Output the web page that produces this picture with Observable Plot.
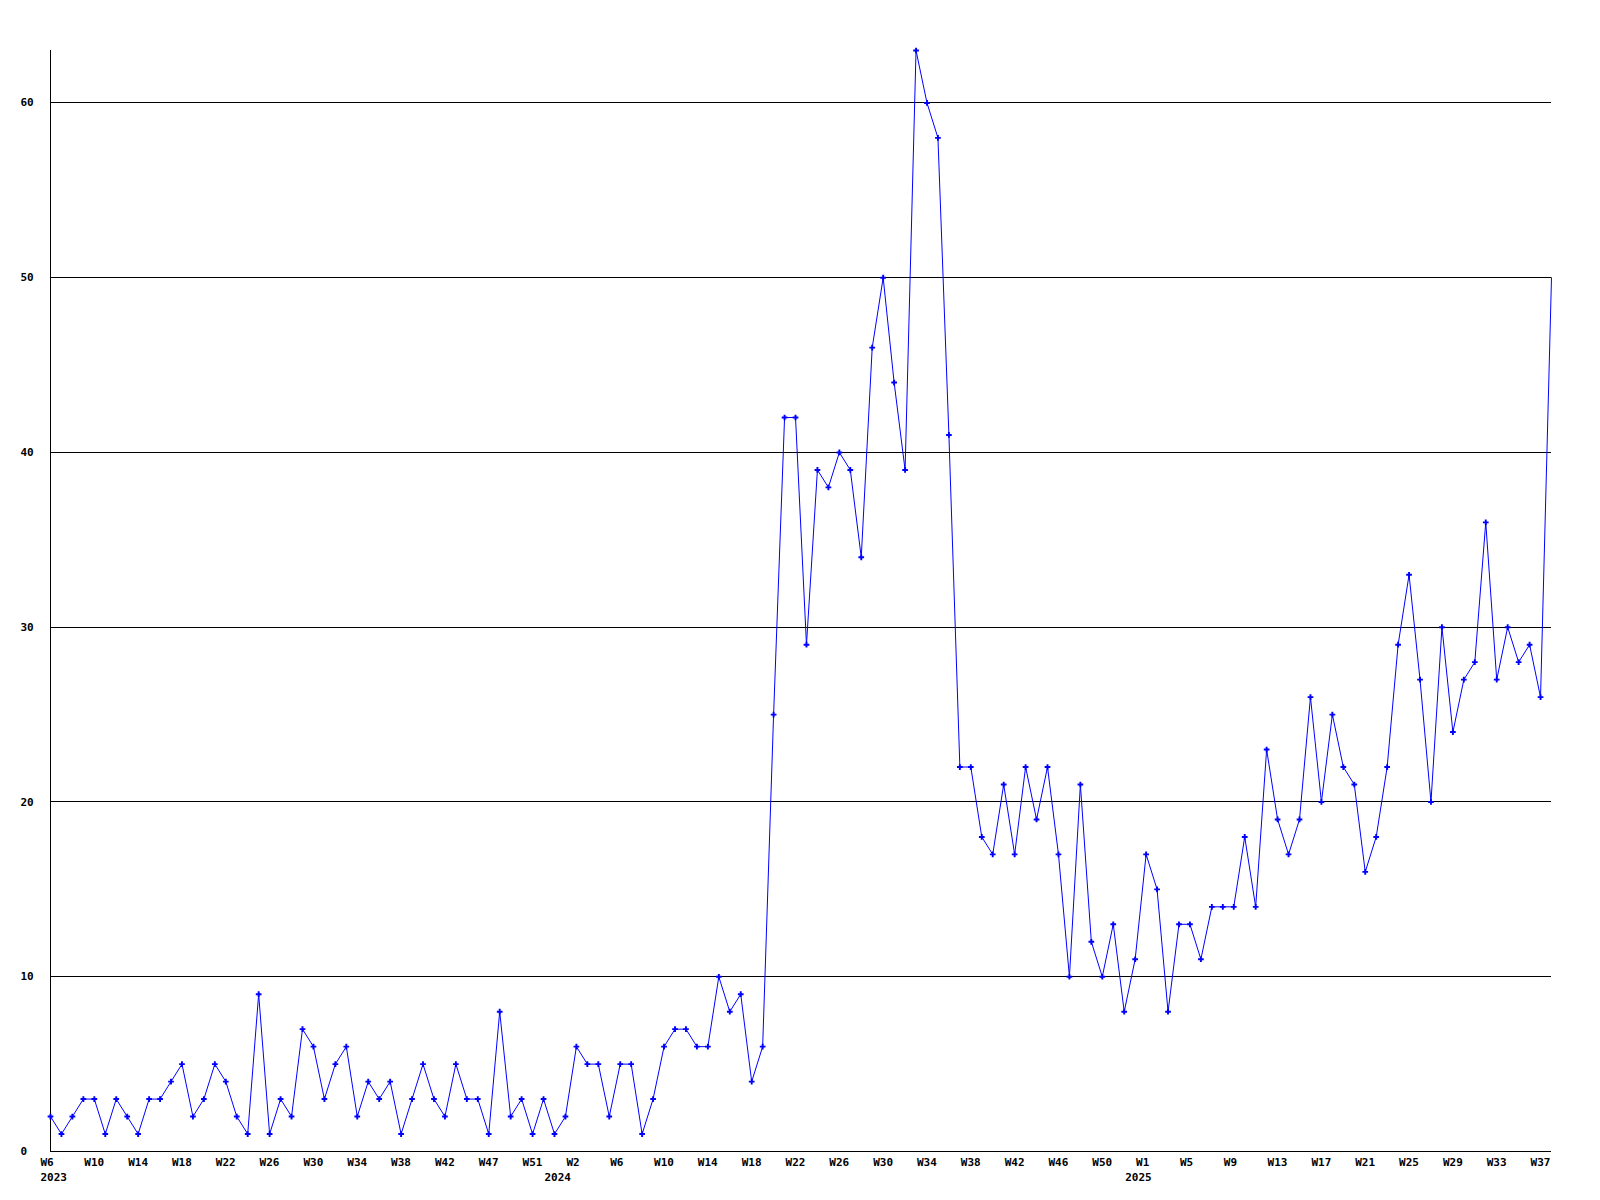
<!DOCTYPE html>
<html>
<head>
<meta charset="utf-8">
<script src="https://cdn.jsdelivr.net/npm/d3@7"></script>
<script src="https://cdn.jsdelivr.net/npm/@observablehq/plot@0.6"></script>
<style>
  html, body { margin: 0; padding: 0; background: #ffffff; }
</style>
</head>
<body>
<div id="chart"></div>
<script>
// Weekly counts, 2023 W6 ... 2025 W37 plus the current (partial) week
const counts = [
  2,1,2,3,3,1,3,2,1,3,3,4,5,2,3,5,4,2,1,9,1,3,2,7,6,3,5,6,2,4,3,4,1,
  3,5,3,2,5,3,3,1,8,2,3,1,3,1,2,6,5,5,2,5,5,1,3,6,7,7,6,6,10,8,9,4,6,
  25,42,42,29,39,38,40,39,34,46,50,44,39,63,60,58,41,
  22,22,18,17,21,17,22,19,22,17,10,21,12,10,13,8,11,17,15,8,13,13,11,14,14,14,18,14,
  23,19,17,19,26,20,25,22,21,16,18,22,29,33,27,20,30,24,27,28,36,27,30,28,29,26,50
];

// Week tick labels (one every 4 weeks)
const weekTickLabels = [
  "W6","W10","W14","W18","W22","W26","W30","W34","W38","W42","W47","W51",
  "W2","W6","W10","W14","W18","W22","W26","W30","W34","W38","W42","W46","W50",
  "W1","W5","W9","W13","W17","W21","W25","W29","W33","W37"
];
const weekTickStep = 4;

// Year labels and the week index at which they are written
const yearLabels = ["2023", "2024", "2025"];
const yearLabelIdx = [0, 46, 99];

// Y axis ticks / grid lines
const yTicks = [0, 10, 20, 30, 40, 50, 60];
const gridLines = [10, 20, 30, 40, 50, 60];

const data = counts.map((v, i) => ({i, v}));
const weekTicks = weekTickLabels.map((label, k) => ({i: k * weekTickStep, label}));
const yearTicks = yearLabels.map((label, k) => ({i: yearLabelIdx[k], label}));

const font = {fontFamily: "'DejaVu Sans Mono', 'Liberation Mono', monospace", fontWeight: "bold"};

const chart = Plot.plot({
  width: 1600,
  height: 1200,
  marginLeft: 50,
  marginRight: 49,
  marginTop: 50,
  marginBottom: 49,
  style: {background: "#ffffff", fontSize: "11px", ...font, color: "#000"},
  x: {type: "linear", domain: [0, counts.length - 1], axis: null},
  y: {type: "linear", domain: [0, 63], axis: null},
  marks: [
    Plot.ruleY(gridLines, {stroke: "#000", strokeWidth: 1, shapeRendering: "crispEdges"}),
    Plot.ruleY([0], {stroke: "#000", strokeWidth: 1, shapeRendering: "crispEdges"}),
    Plot.ruleX([0], {stroke: "#000", strokeWidth: 1, shapeRendering: "crispEdges"}),
    Plot.line(data, {x: "i", y: "v", stroke: "#0000ff", strokeWidth: 1, curve: "linear"}),
    Plot.dot(data.slice(0, -1), {x: "i", y: "v", symbol: "cross", r: 2.4, fill: "#0000ff", stroke: "none"}),
    Plot.text(weekTicks, {x: "i", text: "label", frameAnchor: "bottom", textAnchor: "start", lineAnchor: "middle", dx: -10, dy: 11, fill: "#000", fontWeight: "bold"}),
    Plot.text(yearTicks, {x: "i", text: "label", frameAnchor: "bottom", textAnchor: "start", lineAnchor: "middle", dx: -10, dy: 26, fill: "#000", fontWeight: "bold"}),
    Plot.text(yTicks, {y: d => d, text: d => String(d), frameAnchor: "left", textAnchor: "start", lineAnchor: "middle", dx: -30, fill: "#000", fontWeight: "bold"})
  ]
});

document.getElementById("chart").appendChild(chart);
</script>
</body>
</html>
